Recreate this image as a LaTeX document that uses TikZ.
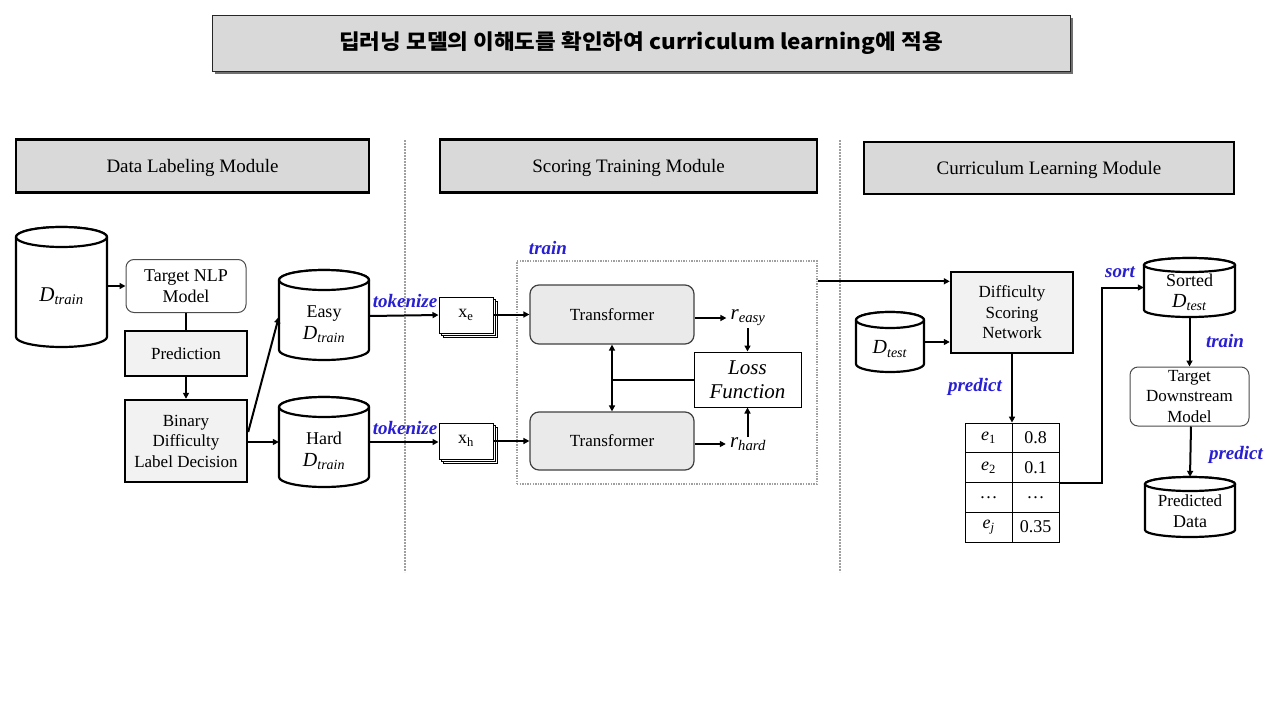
\documentclass[tikz,border=0pt]{standalone}
\usepackage{fontspec}
\usepackage{graphicx}
\setmainfont{Liberation Serif}
\newfontfamily\kr{Noto Sans CJK KR}
\usetikzlibrary{arrows.meta,shadows}
\definecolor{hdr}{RGB}{217,217,217}
\definecolor{boxg}{RGB}{242,242,242}
\definecolor{trg}{RGB}{234,234,234}
\definecolor{lab}{RGB}{40,30,210}
\definecolor{dotg}{RGB}{160,160,160}
\newcommand\mvar[2]{\textit{#1}\textsubscript{\textit{#2}}}
\newcommand\cyl[8]{%
 \draw[cylst] (#2-#4,#3-#5+#6) -- (#2-#4,#3+#5-#6) arc[start angle=180,end angle=360,x radius=#4pt,y radius=#6pt] -- (#2+#4,#3-#5+#6) arc[start angle=0,end angle=180,x radius=#4pt,y radius=#6pt] -- cycle;
 \draw[cylst] (#2,#3-#5+#6) ellipse[x radius=#4pt,y radius=#6pt];
 \node[ghost, minimum width={2*#4pt}, minimum height={2*#5pt}] (#1) at (#2,#3) {};
 \node[txt] (#1-t) at (#2,#3+#7) {#8};
}
\tikzset{
 cylst/.style={line width=2.2pt, fill=white},
 ghost/.style={inner sep=0pt, draw=none},
 txt/.style={inner sep=0pt, align=center, font=\fontsize{18}{21}\selectfont},
 hdrbox/.style={draw, line width=2.4pt, fill=hdr, inner sep=0pt, font=\fontsize{19}{22}\selectfont},
 thickbox/.style={draw, line width=2.4pt, fill=boxg, inner sep=0pt, align=center, font=\fontsize{17}{20.5}\selectfont},
 roundbox/.style={draw=black!70, line width=1pt, fill=white, rounded corners=8pt, inner sep=0pt, align=center},
 trbox/.style={draw=black!75, line width=1.2pt, fill=trg, rounded corners=9pt, inner sep=0pt, font=\fontsize{17}{20}\selectfont},
 stackbox/.style={draw, line width=1pt, fill=white, inner sep=0pt, minimum width=54pt, minimum height=36pt,
   double copy shadow={shadow xshift=2pt, shadow yshift=-2pt, draw, line width=1pt, fill=white}},
 cell/.style={draw, line width=0.8pt, inner sep=0pt, minimum width=47pt, minimum height=29.75pt, font=\fontsize{18}{20}\selectfont},
 lbl/.style={text=lab, font=\fontsize{19}{21}\selectfont\bfseries\itshape, inner sep=0pt},
 conn/.style={line width=2pt},
 arr/.style={line width=2pt, -{Triangle[length=6pt,width=6pt]}},
 sep/.style={draw=dotg, line width=1.6pt, dash pattern=on 1.6pt off 1.4pt},
}
\begin{document}
\begin{tikzpicture}[x=1pt,y=-1pt]
\useasboundingbox (0,0) rectangle (1280,720);
% title
\node[draw=black!85, line width=1pt, fill=hdr, minimum width=858pt, minimum height=56pt, inner sep=0pt,
  drop shadow={shadow xshift=3pt, shadow yshift=-3pt, fill=black!75, opacity=0.75}] (title) at (641,43)
  {\scalebox{1.07}[1]{\kr\bfseries\fontsize{21}{24}\selectfont 딥러닝 모델의 이해도를 확인하여 curriculum learning에 적용}};
% separators
\coordinate (s1a) at (405,140); \coordinate (s1b) at (405,572);
\coordinate (s2a) at (840,140); \coordinate (s2b) at (840,572);
\draw[sep] (s1a) -- (s1b);
\draw[sep] (s2a) -- (s2b);
% headers
\node[hdrbox, minimum width=353pt, minimum height=53pt, text depth=0pt, yshift=-2pt] (h1) at (192.5,164) {Data Labeling Module};
\node[hdrbox, minimum width=377pt, minimum height=53pt, text depth=0pt, yshift=-2pt] (h2) at (628.5,164) {Scoring Training Module};
\node[hdrbox, minimum width=370pt, minimum height=52pt, text depth=0pt, yshift=-2pt] (h3) at (1049,166) {Curriculum Learning Module};
% data labeling
\cyl{dtrain}{61.5}{287}{45.5}{60}{10}{9}{\fontsize{21}{22}\selectfont\mvar{D}{train}}
\node[roundbox, minimum width=120pt, minimum height=53pt, font=\fontsize{18}{20.5}\selectfont] (tnlp) at (186,286) {Target NLP\\Model};
\node[thickbox, minimum width=122pt, minimum height=45pt] (pred) at (186,353.5) {Prediction};
\node[thickbox, minimum width=122pt, minimum height=82pt] (bin) at (186,441) {Binary\\Difficulty\\Label Decision};
\cyl{easy}{324}{315}{45}{45}{10}{9}{Easy\\[1pt]{\fontsize{20}{22}\selectfont\mvar{D}{train}}}
\cyl{hard}{324}{442}{45}{45}{10}{9}{Hard\\[1pt]{\fontsize{20}{22}\selectfont\mvar{D}{train}}}
\draw[arr] (dtrain.east |- tnlp.west) -- (tnlp.west);
\draw[conn] (tnlp.south) -- (pred.north);
\draw[arr] (pred.south) -- (bin.north);
\draw[arr] ([yshift=9pt]bin.east) -- ([yshift=-2pt]easy.west);
\draw[arr] (bin.east |- hard.west) -- (hard.west);
% scoring training
\node[lbl] (tok1) at (405,301) {tokenize};
\node[lbl] (tok2) at (405,428) {tokenize};
\node[stackbox, font=\fontsize{18}{20}\selectfont] (xe) at (466,315) {x\textsubscript{e}};
\node[stackbox, font=\fontsize{18}{20}\selectfont] (xh) at (466,441) {x\textsubscript{h}};
\draw[arr] ([yshift=-1pt]easy.east) -- (easy.east -| xe.west);
\draw[arr] (hard.east) -- (hard.east -| xh.west);
\node[draw=dotg, line width=1.4pt, dash pattern=on 1.4pt off 1.2pt, minimum width=300pt, minimum height=223pt, inner sep=0pt] (tbox) at (667,372.5) {};
\node[lbl] (trainlbl) at (548,248) {train};
\node[trbox, minimum width=164pt, minimum height=59pt] (t1) at (612,314.5) {Transformer};
\node[trbox, minimum width=164pt, minimum height=58pt] (t2) at (612,441) {Transformer};
\draw[arr] (xe.east |- t1.west) -- (t1.west);
\draw[arr] (xh.east |- t2.west) -- (t2.west);
\node[inner sep=1pt, font=\fontsize{21}{22}\selectfont] (re) at (748,318) {\mvar{r}{easy}};
\node[inner sep=1pt, font=\fontsize{21}{22}\selectfont] (rh) at (748,444) {\mvar{r}{hard}};
\draw[arr] (t1.east |- re.west) -- ([xshift=-3pt]re.west);
\draw[arr] (t2.east |- rh.west) -- ([xshift=-3pt]rh.west);
\node[draw, line width=1pt, fill=white, minimum width=107pt, minimum height=55pt, inner sep=0pt, align=center,
  font=\fontsize{21}{24}\selectfont\itshape] (loss) at (747.5,379.5) {Loss\\Function};
\draw[arr] ([yshift=-1pt]re.south -| loss.north) -- (loss.north);
\draw[arr] ([yshift=-1pt]rh.north -| loss.south) -- (loss.south);
\coordinate (lj) at (loss.west -| t1.south);
\draw[conn] (loss.west) -- (lj);
\draw[line width=2pt, {Triangle[length=6pt,width=6pt]}-{Triangle[length=6pt,width=6pt]}] (t1.south) -- (t2.north);
% curriculum learning
\node[thickbox, minimum width=122pt, minimum height=81pt] (dsn) at (1012,312.5) {Difficulty\\Scoring\\Network};
\draw[arr] ([yshift=-21pt]tbox.north east) -- ([yshift=-21pt]tbox.north east -| dsn.west);
\cyl{dtest}{890}{342}{34}{30}{8}{7}{{\fontsize{20}{22}\selectfont\mvar{D}{test}}}
\draw[arr] (dtest.east) -- (dtest.east -| dsn.west);
\node[draw, line width=0.8pt, minimum width=94pt, minimum height=119pt, inner sep=0pt] (tbl) at (1012,482.5) {};
\node[cell] (c11) at (988.5,437.9) {\textit{e}\textsubscript{1}};
\node[cell] (c12) at (1035.5,437.9) {0.8};
\node[cell] (c21) at (988.5,467.6) {\textit{e}\textsubscript{2}};
\node[cell] (c22) at (1035.5,467.6) {0.1};
\node[cell] (c31) at (988.5,497.4) {…};
\node[cell] (c32) at (1035.5,497.4) {…};
\node[cell] (c41) at (988.5,527.1) {\mvar{e}{j}};
\node[cell] (c42) at (1035.5,527.1) {0.35};
\draw[arr] (dsn.south) -- (tbl.north);
\node[lbl] (predlbl1) at (975,387) {predict};
\cyl{sorted}{1189.5}{287.5}{45.5}{29.5}{7}{5}{Sorted\\{\fontsize{20}{22}\selectfont\mvar{D}{test}}}
\coordinate (sj) at (1102,482.5);
\draw[arr] (tbl.east) -- (sj) |- (sorted.west);
\node[lbl] (sortlbl) at (1120,272) {sort};
\node[roundbox, minimum width=119pt, minimum height=59pt, font=\fontsize{17}{20.5}\selectfont] (tdm) at (1189.5,396.5) {Target\\Downstream\\Model};
\draw[arr] (sorted.south) -- (tdm.north);
\node[lbl] (trainlbl2) at (1225,341) {train};
\cyl{pdata}{1190}{507}{45}{30}{7}{4}{\fontsize{17}{20}\selectfont Predicted\\Data}
\draw[arr] ([xshift=1.5pt]tdm.south) -- (pdata.north);
\node[lbl] (predlbl2) at (1236,455) {predict};
\end{tikzpicture}
\end{document}
